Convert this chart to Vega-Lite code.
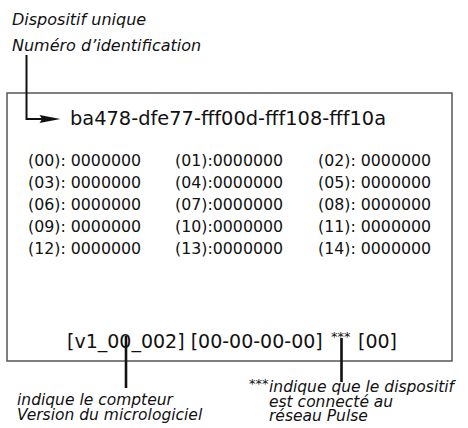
{
  "$schema": "https://vega.github.io/schema/vega-lite/v6.json",
  "width": 468,
  "height": 428,
  "autosize": {"type": "fit", "contains": "padding"},
  "padding": 0,
  "background": "white",
  "config": {"view": {"stroke": null}, "axis": {"disable": true}},
  "datasets": {
    "box": [{"x": 7, "x2": 452, "y": 93, "y2": 361}],
    "pointer": [
      {"x": 26.5, "y": 55, "o": 1},
      {"x": 26.5, "y": 119, "o": 2},
      {"x": 45, "y": 119, "o": 3}
    ],
    "head": [{"x": 50, "y": 119}],
    "leaders": [
      {"x": 126, "y": 336, "y2": 388},
      {"x": 341.5, "y": 338, "y2": 382}
    ],
    "titles": [
      {"x": 12, "y": 25, "t": "Dispositif unique"},
      {"x": 12, "y": 51, "t": "Numéro d’identification"}
    ],
    "ident": [{"x": 70, "y": 125, "t": "ba478-dfe77-fff00d-fff108-fff10a"}],
    "registers": [
      {"x": 28, "y": 166, "t": "(00): 0000000"},
      {"x": 175, "y": 166, "t": "(01):0000000"},
      {"x": 318, "y": 166, "t": "(02): 0000000"},
      {"x": 28, "y": 188, "t": "(03): 0000000"},
      {"x": 175, "y": 188, "t": "(04):0000000"},
      {"x": 318, "y": 188, "t": "(05): 0000000"},
      {"x": 28, "y": 210, "t": "(06): 0000000"},
      {"x": 175, "y": 210, "t": "(07):0000000"},
      {"x": 318, "y": 210, "t": "(08): 0000000"},
      {"x": 28, "y": 232, "t": "(09): 0000000"},
      {"x": 175, "y": 232, "t": "(10):0000000"},
      {"x": 318, "y": 232, "t": "(11): 0000000"},
      {"x": 28, "y": 254, "t": "(12): 0000000"},
      {"x": 175, "y": 254, "t": "(13):0000000"},
      {"x": 318, "y": 254, "t": "(14): 0000000"}
    ],
    "status": [
      {"x": 67, "y": 348, "t": "[v1_00_002] [00-00-00-00]"},
      {"x": 358, "y": 348, "t": "[00]"}
    ],
    "stars": [
      {"x": 331, "y": 341, "t": "***"},
      {"x": 249, "y": 388, "t": "***"}
    ],
    "notes": [
      {"x": 17, "y": 405, "t": "indique le compteur\nVersion du micrologiciel"},
      {"x": 269, "y": 392, "t": "indique que le dispositif\nest connecté au\nréseau Pulse"}
    ]
  },
  "encoding": {
    "x": {"field": "x", "type": "quantitative", "scale": {"domain": [0, 468], "nice": false, "zero": false}, "axis": null},
    "y": {"field": "y", "type": "quantitative", "scale": {"domain": [0, 428], "nice": false, "zero": false, "reverse": true}, "axis": null}
  },
  "layer": [
    {
      "data": {"name": "box"},
      "mark": {"type": "rect", "fill": null, "fillOpacity": 0, "stroke": "#555555", "strokeWidth": 1.5},
      "encoding": {
        "x2": {"field": "x2"},
        "y2": {"field": "y2"}
      }
    },
    {
      "data": {"name": "pointer"},
      "mark": {"type": "line", "color": "#111111", "strokeWidth": 2, "strokeJoin": "miter", "strokeCap": "butt"},
      "encoding": {"order": {"field": "o", "type": "quantitative"}}
    },
    {
      "data": {"name": "head"},
      "mark": {"type": "point", "shape": "M-1,-0.38L1,0L-1,0.38L-0.75,0Z", "size": 440, "filled": true, "color": "#111111", "opacity": 1, "strokeWidth": 0}
    },
    {
      "data": {"name": "leaders"},
      "mark": {"type": "rule", "color": "#111111", "strokeWidth": 2.6},
      "encoding": {"y2": {"field": "y2"}}
    },
    {
      "data": {"name": "titles"},
      "mark": {"type": "text", "align": "left", "baseline": "alphabetic", "font": "DejaVu Sans", "fontStyle": "italic", "fontSize": 16, "color": "#111111"},
      "encoding": {"text": {"field": "t"}}
    },
    {
      "data": {"name": "ident"},
      "mark": {"type": "text", "align": "left", "baseline": "alphabetic", "font": "DejaVu Sans", "fontSize": 19.4, "color": "#111111"},
      "encoding": {"text": {"field": "t"}}
    },
    {
      "data": {"name": "registers"},
      "mark": {"type": "text", "align": "left", "baseline": "alphabetic", "font": "DejaVu Sans", "fontSize": 15.8, "color": "#111111"},
      "encoding": {"text": {"field": "t"}}
    },
    {
      "data": {"name": "status"},
      "mark": {"type": "text", "align": "left", "baseline": "alphabetic", "font": "DejaVu Sans", "fontSize": 19, "color": "#111111"},
      "encoding": {"text": {"field": "t"}}
    },
    {
      "data": {"name": "stars"},
      "mark": {"type": "text", "align": "left", "baseline": "alphabetic", "font": "DejaVu Sans", "fontSize": 13, "fill": "#111111", "color": "#111111"},
      "encoding": {"text": {"field": "t"}}
    },
    {
      "data": {"name": "notes"},
      "mark": {"type": "text", "align": "left", "baseline": "alphabetic", "font": "DejaVu Sans", "fontStyle": "italic", "fontSize": 15.5, "lineBreak": "\n", "lineHeight": 14.5, "color": "#111111"},
      "encoding": {"text": {"field": "t"}}
    }
  ]
}
